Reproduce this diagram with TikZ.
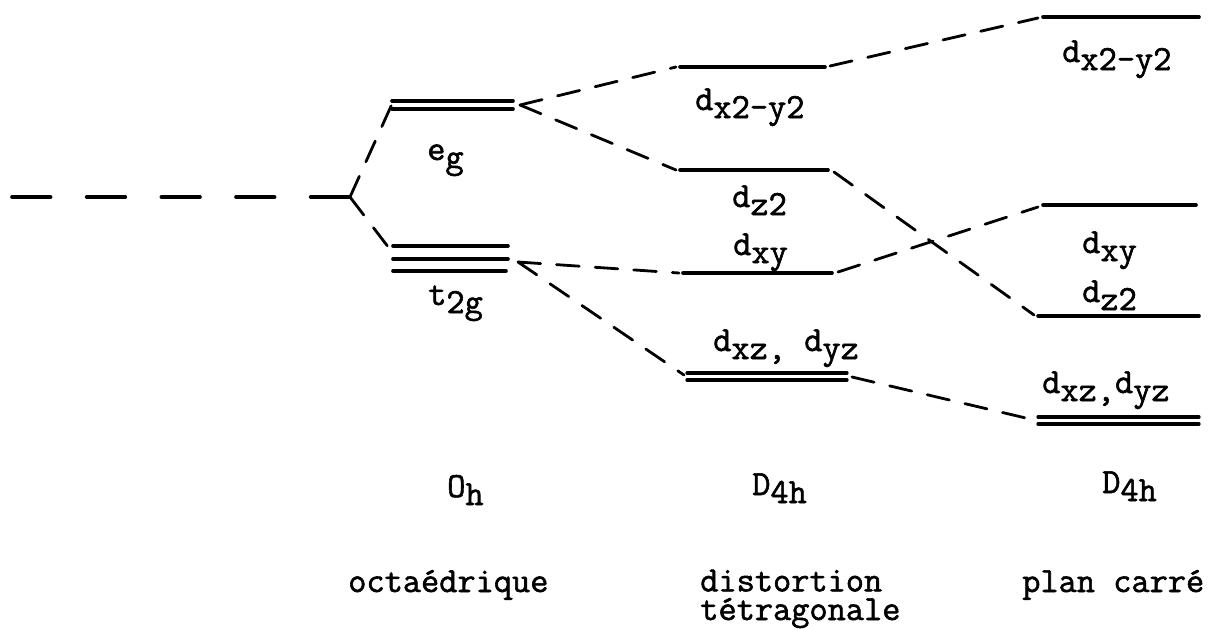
\documentclass[tikz,border=0pt]{standalone}
\usepackage{fontspec}
% a heavier typewriter face
\newfontfamily\typed{Latin Modern Mono}[FakeBold=1.6]
% symbol with a lowered subscript, typewriter style
\newcommand\lvl[2]{#1\raisebox{-6pt}{#2}}
\begin{document}
\begin{tikzpicture}[x=0.75pt,y=-0.75pt,
  orb/.style={line width=2.7pt, line cap=round},
  dbl/.style={line width=2.5pt, line cap=round},
  conn/.style={line width=2.1pt, line cap=round, dash pattern=on 17pt off 12pt},
  free/.style={line width=2.7pt, line cap=round, dash pattern=on 29pt off 27pt},
  lab/.style={anchor=base west, inner sep=0pt, font=\fontsize{26.5}{21.5}\selectfont\typed}]
\useasboundingbox (0,0) rectangle (1221,629);

% ---- free ion ----
\coordinate (free) at (12,197);
\coordinate (split) at (350,197);
\draw[free] (free) -- (split);

% ---- octahedral levels ----
\draw[orb] (392,101) -- (513,101);
\draw[orb] (392,109) -- (513,109);
\coordinate (egL) at (392,104);
\coordinate (egR) at (520,105);
\draw[orb] (393,246) -- (508,246);
\draw[orb] (393,259) -- (508,259);
\draw[orb] (393,271) -- (506,271);
\coordinate (t2gL) at (392,252);
\coordinate (t2gR) at (518,262);

% ---- tetragonal distortion levels ----
\draw[orb] (680,67) -- (825,67);
\coordinate (mAL) at (676,67);  \coordinate (mAR) at (830,66);
\draw[orb] (680,170) -- (828,170);
\coordinate (mBL) at (676,170); \coordinate (mBR) at (834,172);
\draw[orb] (683,273) -- (832,273);
\coordinate (mCL) at (679,273); \coordinate (mCR) at (838,272);
\draw[dbl] (687,373) -- (847,373);
\draw[dbl] (687,380) -- (847,380);
\coordinate (mDL) at (684,375); \coordinate (mDR) at (852,377);

% ---- square planar levels ----
\draw[orb] (1043,17) -- (1199,17);
\coordinate (pA) at (1038,18);
\draw[orb] (1043,205) -- (1196,205);
\coordinate (pB) at (1038,207);
\draw[orb] (1038,316) -- (1199,316);
\coordinate (pC) at (1034,315);
\draw[dbl] (1038,417) -- (1199,417);
\draw[dbl] (1038,424) -- (1199,424);
\coordinate (pD) at (1030,419);

% ---- correlation lines ----
\draw[conn] (split) -- (egL);
\draw[conn] (split) -- (t2gL);
\draw[conn] (egR) -- (mAL);
\draw[conn] (egR) -- (mBL);
\draw[conn] (t2gR) -- (mCL);
\draw[conn] (t2gR) -- (mDL);
\draw[conn] (mAR) -- (pA);
\draw[conn] (mBR) -- (pC);
\draw[conn] (mCR) -- (pB);
\draw[conn] (mDR) -- (pD);

% ---- level labels ----
\node[lab] (eg)  at (427,160) {\lvl{e}{g}};
\node[lab] (t2g) at (428,305) {\lvl{t}{2g}};
\node[lab] (mA)  at (695,110) {\lvl{d}{x2-y2}};
\node[lab] (mB)  at (732,207) {\lvl{d}{z2}};
\node[lab] (mC)  at (733,255) {\lvl{d}{xy}};
\node[lab] (mD)  at (713,351) {d\raisebox{-6pt}{xz,\ }d\raisebox{-6pt}{yz}};
\node[lab] (qA)  at (1062,62) {\lvl{d}{x2-y2}};
\node[lab] (qB)  at (1082,253) {\lvl{d}{xy}};
\node[lab] (qC)  at (1082,302) {\lvl{d}{z2}};
\node[lab] (qD)  at (1042,393) {d\raisebox{-6pt}{xz,}d\raisebox{-6pt}{yz}};

% ---- symmetry groups and captions ----
\node[lab] (Oh)   at (447,497) {\lvl{O}{h}};
\node[lab] (D4a)  at (752,495) {\lvl{D}{4h}};
\node[lab] (D4b)  at (1102,493) {\lvl{D}{4h}};
\node[lab] (oct)  at (348,592) {octaédrique};
\node[lab, align=left] (dis) at (700,620) {distortion\\tétragonale};
\node[lab] (plan) at (1022,592) {plan carré};
\end{tikzpicture}
\end{document}
